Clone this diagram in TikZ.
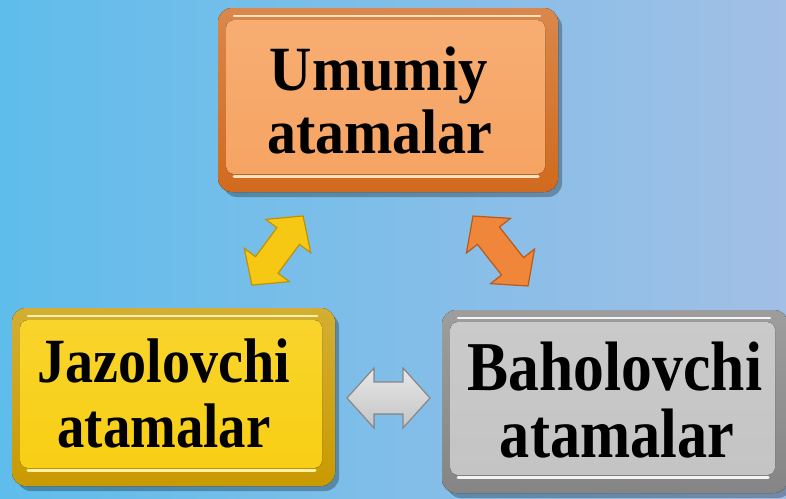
\documentclass[tikz,border=0pt]{standalone}
\usepackage{fontspec}
\setmainfont{Liberation Serif}
\usetikzlibrary{calc}
\pgfdeclarelayer{bga}\pgfdeclarelayer{bgb}
\pgfsetlayers{bga,bgb,main}
\definecolor{bgL}{HTML}{5FBDEB}
\definecolor{bgM}{HTML}{7ABEE8}
\definecolor{bgR}{HTML}{A2BFE6}
\definecolor{orFace}{HTML}{F6A463}
\definecolor{orRim}{HTML}{D06A1E}
\definecolor{orHl}{HTML}{FFE0C0}
\definecolor{yeFace}{HTML}{F8CF14}
\definecolor{yeRim}{HTML}{C99A00}
\definecolor{yeHl}{HTML}{FFF3A8}
\definecolor{grFace}{HTML}{C4C4C4}
\definecolor{grRim}{HTML}{858585}
\definecolor{grHl}{HTML}{F4F4F4}
\definecolor{arYe}{HTML}{F7C813}
\definecolor{arYeD}{HTML}{C09200}
\definecolor{arOr}{HTML}{F0863A}
\definecolor{arOrD}{HTML}{B85A18}
\definecolor{arGr}{HTML}{C4C4C4}
\definecolor{arGrD}{HTML}{888888}
\newcommand\mybevel[4]{%
  \fill[black, opacity=.28, rounded corners=14pt] ($(#1.north west)+(5,5)$) rectangle ($(#1.south east)+(4,5)$);
  \fill[top color=#3!80!white, bottom color=#3, rounded corners=14pt] (#1.north west) rectangle (#1.south east);
  \fill[top color=#2!90!white, bottom color=#2, rounded corners=8pt] ($(#1.north west)+(8,12)$) rectangle ($(#1.south east)+(-13,-18)$);
  \draw[#4, line width=2.5pt, line cap=round] ($(#1.north west)+(16,8)$) -- ($(#1.north east)+(-18,8)$);
  \draw[#4, line width=3pt, line cap=round] ($(#1.south west)+(16,-16)$) -- ($(#1.south east)+(-20,-16)$);
}
\newcommand\mydblarr[7]{%
  \begin{scope}[shift={#1}, rotate=#2]
    \filldraw[#7, line width=1.2pt, line join=miter]
      (-#3,0) -- (-#3+#4,#5) -- (-#3+#4,#6) -- (#3-#4,#6) -- (#3-#4,#5) -- (#3,0)
      -- (#3-#4,-#5) -- (#3-#4,-#6) -- (-#3+#4,-#6) -- (-#3+#4,-#5) -- cycle;
  \end{scope}
}
\tikzset{
  box/.style={rectangle, inner sep=0pt, outer sep=0pt},
  lbl/.style={anchor=base, inner sep=0pt, text=black, font=\bfseries\fontsize{63}{63}\selectfont},
  lblbig/.style={lbl, font=\bfseries\fontsize{70}{70}\selectfont},
}
\begin{document}
\begin{tikzpicture}[x=1pt,y=-1pt]
\useasboundingbox (0,0) rectangle (786,498);
\begin{pgfonlayer}{bga}
  \shade[left color=bgL, middle color=bgM, right color=bgR] (0,0) rectangle (786,498);
\end{pgfonlayer}
% boxes
\node[box, minimum width=340pt, minimum height=184pt] (umum) at (388,100) {};
\node[box, minimum width=323pt, minimum height=178pt] (jazo) at (173.5,397) {};
\node[box, minimum width=346pt, minimum height=183pt] (baho) at (615,401.5) {};
\begin{pgfonlayer}{bgb}
  \mybevel{umum}{orFace}{orRim}{orHl}
  \mybevel{jazo}{yeFace}{yeRim}{yeHl}
  \mybevel{baho}{grFace}{grRim}{grHl}
\end{pgfonlayer}
% texts
\node[lbl] (u1) at (379,90) {\scalebox{0.93}[1]{Umumiy}};
\node[lbl] (u2) at (380,153) {\scalebox{0.92}[1]{atamalar}};
\node[lbl] (j1) at (164,382) {\scalebox{0.89}[1]{Jazolovchi}};
\node[lbl] (j2) at (164,447) {\scalebox{0.87}[1]{atamalar}};
\node[lblbig] (b1) at (615,390) {\scalebox{0.88}[1]{Baholovchi}};
\node[lblbig] (b2) at (617,457) {\scalebox{0.86}[1]{atamalar}};
% arrows
\coordinate (ay) at (277.5,250.5);
\coordinate (ao) at (500.5,251);
\coordinate (ag) at (388.5,398);
\mydblarr{(ay)}{53.5}{43}{25}{28}{14}{fill=arYe, draw=arYeD}
\mydblarr{(ao)}{-51.8}{44.5}{25}{28}{14}{fill=arOr, draw=arOrD}
\mydblarr{(ag)}{0}{41.5}{27}{30}{16}{top color=arGr!40!white, bottom color=arGr, draw=arGrD}
\end{tikzpicture}
\end{document}
